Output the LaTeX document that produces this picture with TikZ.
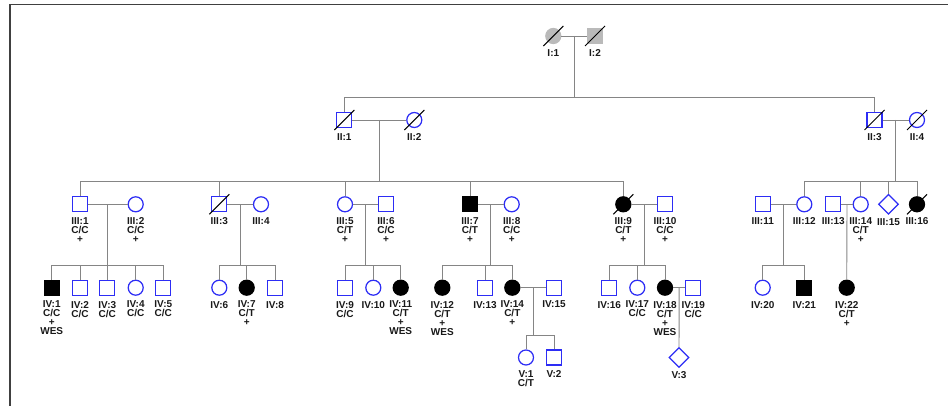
\documentclass[tikz,border=0pt]{standalone}
\usepackage{fontspec}
\setmainfont{Liberation Sans}
\usetikzlibrary{calc,shapes.geometric}
\definecolor{pblue}{RGB}{45,45,245}
\tikzset{ind/.style={draw=pblue,line width=1.25pt,fill=white,inner sep=0pt,minimum size=15pt},
  male/.style={ind,rectangle},
  female/.style={ind,circle},
  unk/.style={ind,diamond,minimum size=20pt},
  aff/.style={fill=black,draw=black},
  founder/.style={fill=black!27,draw=black!27},
  every label/.style={font=\fontsize{10}{9}\selectfont\bfseries,text=black!90,align=center,inner sep=0pt},
  conn/.style={draw=black!48,line width=0.9pt},
  slash/.style={black,line width=1pt},
  frame/.style={draw=black!75,line width=1.4pt}}
% descent line from a couple down to its children
\newcommand{\kids}[3]{\draw[conn] (#1) -- (#1 |- #2);
  \foreach \p in {#3} \draw[conn] (\p) -- (\p |- #2) -- (#1 |- #2);}
\begin{document}
\begin{tikzpicture}[x=1pt,y=-1pt,label distance=5pt]
\useasboundingbox (0,0) rectangle (948,406);
\draw[frame] (10,406) -- (10,4.3) -- (948,4.3);
\coordinate (g2) at (0,97.7);
\coordinate (g3) at (0,181.7);
\coordinate (g4) at (0,265.7);
\coordinate (g5) at (0,335);

% generation I
\node[female,founder,label=below:{I:1}] (I1) at (553.3,36) {};
\node[male,founder,label=below:{I:2}] (I2) at (595,36) {};
% generation II
\node[male,label=below:{II:1}] (II1) at (344.3,120) {};
\node[female,label=below:{II:2}] (II2) at (414.3,120) {};
\node[male,label=below:{II:3}] (II3) at (874.5,120) {};
\node[female,label=below:{II:4}] (II4) at (917,120) {};
% generation III
\node[male,label=below:{III:1\\C/C\\+}] (III1) at (80,204.3) {};
\node[female,label=below:{III:2\\C/C\\+}] (III2) at (135.7,204.3) {};
\node[male,label=below:{III:3}] (III3) at (219.3,204.3) {};
\node[female,label=below:{III:4}] (III4) at (261,204.3) {};
\node[female,label=below:{III:5\\C/T\\+}] (III5) at (345,204.3) {};
\node[male,label=below:{III:6\\C/C\\+}] (III6) at (386,204.3) {};
\node[male,aff,label=below:{III:7\\C/T\\+}] (III7) at (470,204.3) {};
\node[female,label=below:{III:8\\C/C\\+}] (III8) at (511.7,204.3) {};
\node[female,aff,label=below:{III:9\\C/T\\+}] (III9) at (623.3,204.3) {};
\node[male,label=below:{III:10\\C/C\\+}] (III10) at (665,204.3) {};
\node[male,label=below:{III:11}] (III11) at (762.7,204.3) {};
\node[female,label=below:{III:12}] (III12) at (804.3,204.3) {};
\node[male,label=below:{III:13}] (III13) at (833.3,204.3) {};
\node[female,label=below:{III:14\\C/T\\+}] (III14) at (860.7,204.3) {};
\node[unk,label={[label distance=3pt]below:{III:15}}] (III15) at (888.5,204.3) {};
\node[female,aff,label=below:{III:16}] (III16) at (917,204.3) {};
% generation IV
\node[male,aff,label=below:{IV:1\\C/C\\+\\WES}] (IV1) at (51.7,287.7) {};
\node[male,label=below:{IV:2\\C/C}] (IV2) at (80,287.7) {};
\node[male,label=below:{IV:3\\C/C}] (IV3) at (107.3,287.7) {};
\node[female,label=below:{IV:4\\C/C}] (IV4) at (135.7,287.7) {};
\node[male,label=below:{IV:5\\C/C}] (IV5) at (163.3,287.7) {};
\node[female,label=below:{IV:6}] (IV6) at (219.3,287.7) {};
\node[female,aff,label=below:{IV:7\\C/T\\+}] (IV7) at (246.7,287.7) {};
\node[male,label=below:{IV:8}] (IV8) at (275,287.7) {};
\node[male,label=below:{IV:9\\C/C}] (IV9) at (345,287.7) {};
\node[female,label=below:{IV:10}] (IV10) at (373.3,287.7) {};
\node[female,aff,label=below:{IV:11\\C/T\\+\\WES}] (IV11) at (400.7,287.7) {};
\node[female,aff,label=below:{IV:12\\C/T\\+\\WES}] (IV12) at (442.3,287.7) {};
\node[male,label=below:{IV:13}] (IV13) at (485,287.7) {};
\node[female,aff,label=below:{IV:14\\C/T\\+}] (IV14) at (512.3,287.7) {};
\node[male,label=below:{IV:15}] (IV15) at (554,287.7) {};
\node[male,label=below:{IV:16}] (IV16) at (609.3,287.7) {};
\node[female,label=below:{IV:17\\C/C}] (IV17) at (637.3,287.7) {};
\node[female,aff,label=below:{IV:18\\C/T\\+\\WES}] (IV18) at (665,287.7) {};
\node[male,label=below:{IV:19\\C/C}] (IV19) at (693.3,287.7) {};
\node[female,label=below:{IV:20}] (IV20) at (762.7,287.7) {};
\node[male,aff,label=below:{IV:21}] (IV21) at (804.3,287.7) {};
\node[female,aff,label=below:{IV:22\\C/T\\+}] (IV22) at (846.7,287.7) {};
% generation V
\node[female,label=below:{V:1\\C/T}] (V1) at (526,357.5) {};
\node[male,label=below:{V:2}] (V2) at (554,357.5) {};
\node[unk,label={[label distance=3pt]below:{V:3}}] (V3) at (679,357.5) {};

% deceased
\foreach \n in {I1,I2,II1,II2,II3,II4,III3,III9,III16}
  \draw[slash] ($(\n)+(-10,10)$) -- ($(\n)+(10,-10)$);

% couples
\foreach \a/\b/\m in {I1/I2/mI,II1/II2/mA,II3/II4/mB,III1/III2/m1,III3/III4/m2,III5/III6/m3,
  III7/III8/m4,III9/III10/m5,III11/III12/m6,III13/III14/m7,IV14/IV15/m8,IV18/IV19/m9}{
  \draw[conn] (\a) -- (\b);
  \coordinate (\m) at ($(\a)!0.5!(\b)$);
}

% offspring
\kids{mI}{g2}{II1,II3}
\kids{mA}{g3}{III1,III3,III5,III7,III9}
\kids{mB}{g3}{III12,III14,III15,III16}
\kids{m1}{g4}{IV1,IV2,IV3,IV4,IV5}
\kids{m2}{g4}{IV6,IV7,IV8}
\kids{m3}{g4}{IV9,IV10,IV11}
\kids{m4}{g4}{IV12,IV13,IV14}
\kids{m5}{g4}{IV16,IV17,IV18}
\kids{m6}{g4}{IV20,IV21}
\kids{m8}{g5}{V1,V2}
\draw[conn] (m7) -- (IV22);
\draw[conn] (m9) -- (V3);
\end{tikzpicture}
\end{document}
